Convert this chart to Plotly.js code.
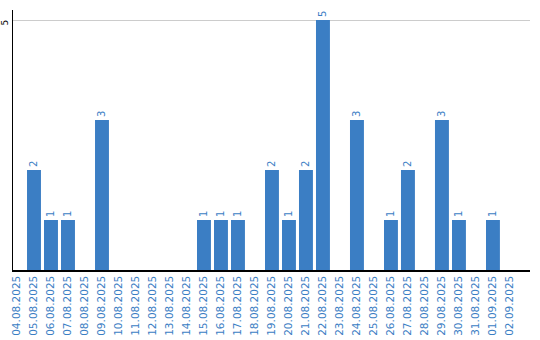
<!DOCTYPE html>
<html>
<head>
<meta charset="utf-8">
<script src="https://cdn.plot.ly/plotly-3.0.1.min.js"></script>
<style>html,body{margin:0;padding:0;background:#fff;}#chart{width:540px;height:340px;}</style>
</head>
<body>
<div id="chart"></div>
<script>
const dates = ["04.08.2025","05.08.2025","06.08.2025","07.08.2025","08.08.2025","09.08.2025","10.08.2025","11.08.2025","12.08.2025","13.08.2025","14.08.2025","15.08.2025","16.08.2025","17.08.2025","18.08.2025","19.08.2025","20.08.2025","21.08.2025","22.08.2025","23.08.2025","24.08.2025","25.08.2025","26.08.2025","27.08.2025","28.08.2025","29.08.2025","30.08.2025","31.08.2025","01.09.2025","02.09.2025"];
const counts = [0,2,1,1,0,3,0,0,0,0,0,1,1,1,0,2,1,2,5,0,3,0,1,2,0,3,1,0,1,0];
const yTicks = [5];

const blue = "#3b7ec4";
const trace = {
  type: "bar",
  x: dates,
  y: counts,
  text: counts.map(v => v ? String(v) : ""),
  textposition: "outside",
  textangle: -90,
  textfont: {family: "DejaVu Sans", size: 10, color: blue},
  cliponaxis: false,
  marker: {color: blue},
  hoverinfo: "x+y"
};
const layout = {
  width: 540, height: 340,
  margin: {l: 13, r: 10, t: 10, b: 70},
  paper_bgcolor: "#fff", plot_bgcolor: "#fff",
  showlegend: false,
  bargap: 0.18,
  font: {family: "DejaVu Sans", size: 10, color: "#000"},
  xaxis: {
    type: "category",
    range: [-0.235, 30.18],
    tickangle: -90,
    tickfont: {family: "DejaVu Sans", size: 10.5, color: blue},
    showline: true, linecolor: "#000", linewidth: 1.5,
    showgrid: false, ticks: "", zeroline: false, fixedrange: true
  },
  yaxis: {
    range: [0, 5.2],
    tickvals: yTicks,
    ticktext: yTicks.map(String),
    tickangle: -90,
    ticklabelstandoff: 0,
    ticklabelshift: 4,
    tickfont: {family: "DejaVu Sans", size: 9, color: "#000"},
    showline: true, linecolor: "#000", linewidth: 1.5,
    showgrid: true, gridcolor: "#cccccc", gridwidth: 1,
    zeroline: false, ticks: "", ticklen: 0, fixedrange: true
  }
};
Plotly.newPlot("chart", [trace], layout, {displayModeBar: false, staticPlot: true});
</script>
</body>
</html>
